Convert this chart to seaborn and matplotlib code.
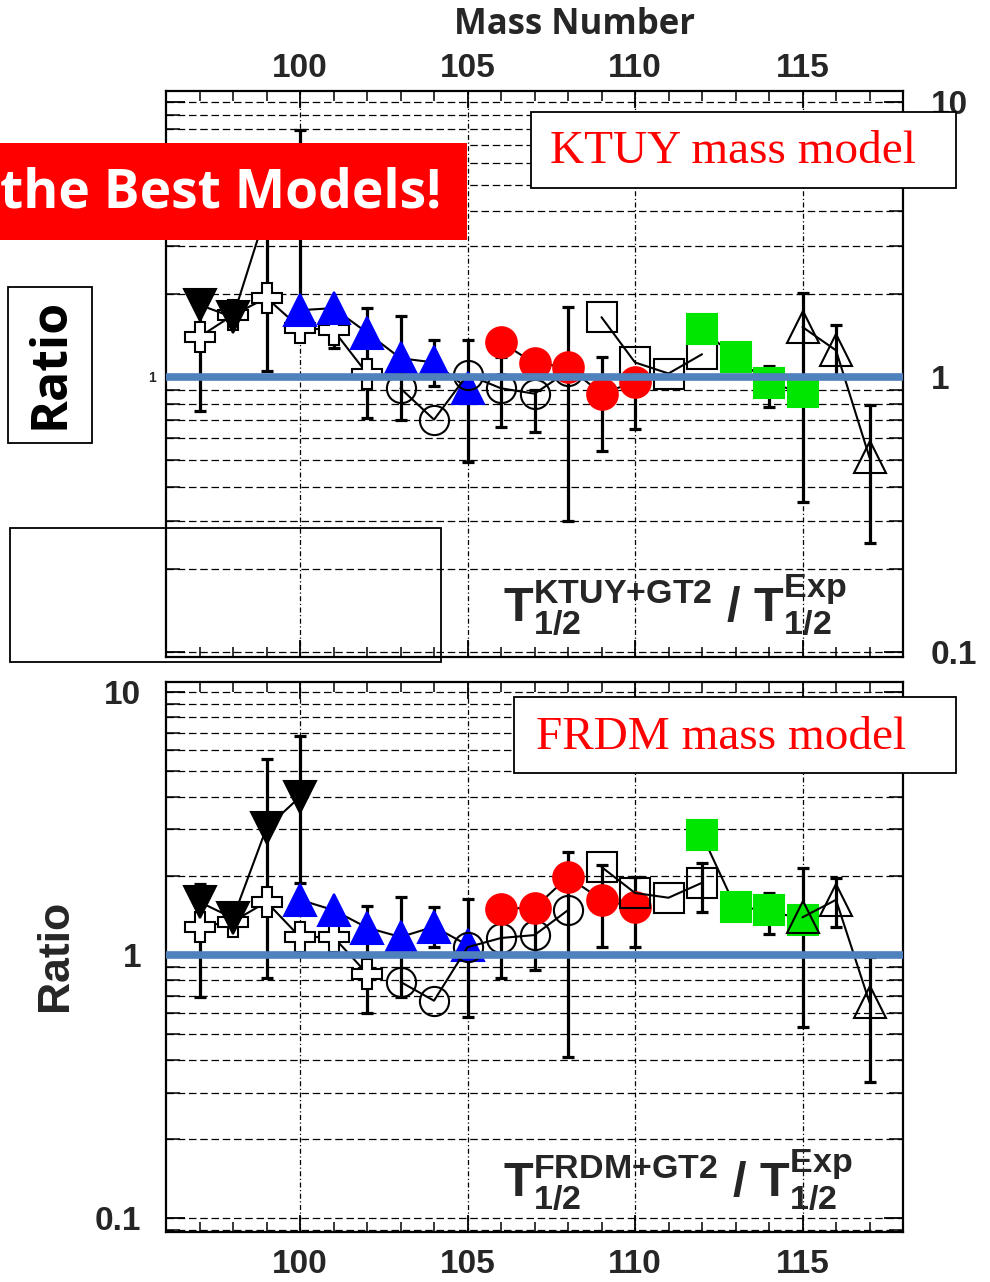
import matplotlib
matplotlib.use('Agg')
import matplotlib.pyplot as plt
import seaborn as sns
import numpy as np
import pandas as pd
from matplotlib.patches import Rectangle
from matplotlib.ticker import FixedLocator, LogLocator, NullFormatter

sns.set_theme(style='white')
plt.rcParams['font.family'] = ['Liberation Sans', 'DejaVu Sans']
plt.rcParams['mathtext.fontset'] = 'custom'
plt.rcParams['mathtext.rm'] = 'Liberation Sans'
plt.rcParams['mathtext.bf'] = 'Liberation Sans:bold'
plt.rcParams['mathtext.it'] = 'Liberation Sans:italic'

# ---------------- data (ratio T1/2 model / T1/2 exp) ----------------
A_down = [97, 98, 99, 100]
ktuy_down = [1.83, 1.65, 4.0, 4.5]
frdm_down = [1.59, 1.38, 3.04, 3.99]

A_cross = [97, 98, 99, 100, 101, 102]
ktuy_cross = [1.40, 1.68, 1.94, 1.51, 1.48, 1.03]
frdm_cross = [1.28, 1.34, 1.59, 1.17, 1.17, 0.85]

A_blue = [100, 101, 102, 103, 104, 105]
ktuy_blue = [1.75, 1.78, 1.45, 1.17, 1.13, 0.91]
frdm_blue = [1.62, 1.48, 1.27, 1.17, 1.28, 1.09]

A_ocirc = [103, 104, 105, 106, 107, 108]
ktuy_ocirc = [0.91, 0.70, 1.02, 0.91, 0.87, 1.05]
frdm_ocirc = [0.79, 0.67, 1.07, 1.16, 1.19, 1.48]

A_red = [106, 107, 108, 109, 110]
ktuy_red = [1.34, 1.12, 1.09, 0.87, 0.96]
frdm_red = [1.50, 1.51, 1.98, 1.62, 1.52]

A_osq = [109, 110, 111, 112]
ktuy_osq = [1.65, 1.13, 1.03, 1.21]
frdm_osq = [2.16, 1.72, 1.65, 1.88]

A_green = [112, 113, 114, 115]
ktuy_green = [1.49, 1.18, 0.95, 0.88]
frdm_green = [2.86, 1.52, 1.48, 1.36]

A_otri = [115, 116, 117]
ktuy_otri = [1.52, 1.25, 0.51]
frdm_otri = [1.39, 1.62, 0.66]

ktuy_err_A = [97, 99, 100, 101, 102, 103, 104, 105, 106, 107, 108, 109, 110, 114, 115, 116, 117]
ktuy_err_lo = [0.75, 1.05, 1.80, 1.28, 0.71, 0.70, 0.93, 0.49, 0.66, 0.63, 0.30, 0.54, 0.65, 0.78, 0.35, 1.00, 0.25]
ktuy_err_hi = [2.04, 7.0, 7.9, 1.50, 1.78, 1.67, 1.36, 1.36, 1.18, 0.90, 1.80, 1.18, 1.00, 1.10, 2.02, 1.55, 0.79]

frdm_err_A = [97, 99, 100, 102, 103, 104, 105, 106, 107, 108, 109, 110, 112, 114, 115, 116, 117]
frdm_err_lo = [0.69, 0.82, 1.88, 0.60, 0.69, 1.07, 0.58, 0.82, 0.88, 0.41, 1.07, 1.07, 1.46, 1.20, 0.53, 1.28, 0.33]
frdm_err_hi = [1.86, 5.55, 6.8, 1.54, 1.66, 1.52, 1.63, 1.45, 1.40, 2.46, 2.20, 1.98, 2.24, 1.72, 2.14, 1.96, 0.98]

x_major = [100, 105, 110, 115]
x_labels = ['100', '105', '110', '115']
y_major = [0.1, 1, 10]
y_labels = ['0.1', '1', '10']

W, H = 990, 1282
fig = plt.figure(figsize=(W / 100, H / 100), dpi=100)


def fx(px):
    return px / W


def fy(py):
    return 1 - py / H


ax_top = fig.add_axes([fx(166), fy(657), fx(903) - fx(166), fy(91) - fy(657)])
ax_bot = fig.add_axes([fx(166), fy(1232), fx(903) - fx(166), fy(682) - fy(1232)])

styles = [
    # (name, A, top values, bottom values, marker, facecolor, edgecolor, size)
    ('cross', A_cross, ktuy_cross, frdm_cross, 'P', 'white', 'black', 22),
    ('down', A_down, ktuy_down, frdm_down, 'v', 'black', 'black', 23),
    ('blue', A_blue, ktuy_blue, frdm_blue, '^', '#0000ff', '#0000ff', 23),
    ('ocirc', A_ocirc, ktuy_ocirc, frdm_ocirc, 'o', 'none', 'black', 21),
    ('red', A_red, ktuy_red, frdm_red, 'o', '#ff0000', '#ff0000', 22),
    ('osq', A_osq, ktuy_osq, frdm_osq, 's', 'none', 'black', 22),
    ('green', A_green, ktuy_green, frdm_green, 's', '#00e600', '#00e600', 22),
    ('otri', A_otri, ktuy_otri, frdm_otri, '^', 'none', 'black', 23),
]


def draw_panel(ax, which, err_A, err_lo, err_hi, ylim):
    ax.set_yscale('log')
    ax.set_xlim(96, 118)
    ax.set_ylim(*ylim)
    ax.yaxis.set_major_locator(FixedLocator(y_major))
    ax.yaxis.set_minor_locator(LogLocator(base=10, subs=np.arange(2, 10)))
    ax.yaxis.set_minor_formatter(NullFormatter())
    ax.xaxis.set_major_locator(FixedLocator(x_major))
    ax.xaxis.set_minor_locator(FixedLocator(list(range(97, 118))))
    ax.grid(axis='y', which='both', color='black', lw=0.9, linestyle=(0, (6, 3)))
    ax.grid(axis='x', which='major', color='black', lw=0.9, linestyle=(0, (4, 2, 1, 2)))
    ax.set_axisbelow(True)
    for s in ax.spines.values():
        s.set_color('black')
        s.set_linewidth(1.6)
    ax.tick_params(axis='y', which='major', direction='in', length=14, width=1.3,
                   left=True, right=True, color='black')
    ax.tick_params(axis='y', which='minor', direction='in', length=10, width=1.1,
                   left=True, right=True, color='black')
    ax.tick_params(axis='x', which='major', direction='in', length=12, width=1.3,
                   top=True, bottom=True, color='black')
    ax.tick_params(axis='x', which='minor', direction='in', length=7, width=1.1,
                   top=True, bottom=True, color='black')

    err_A = np.array(err_A, dtype=float)
    lo = np.array(err_lo)
    hi = np.array(err_hi)
    mid = np.sqrt(lo * hi)
    ax.errorbar(err_A, mid, yerr=[mid - lo, hi - mid], fmt='none', ecolor='black',
                elinewidth=2.3, capsize=4.5, capthick=2.3, zorder=3)

    for name, A, vt, vb, m, fc, ec, ms in styles:
        vals = vt if which == 'top' else vb
        df = pd.DataFrame({'A': A, 'ratio': vals})
        sns.lineplot(data=df, x='A', y='ratio', ax=ax, color='black', lw=1.5,
                     marker=m, markersize=ms, markerfacecolor=fc, markeredgecolor=ec,
                     markeredgewidth=1.5, errorbar=None, zorder=5)

    ax.axhline(1, color='#4f81bd', lw=5.5, zorder=10)
    ax.set_xlabel('')
    ax.set_ylabel('')


draw_panel(ax_top, 'top', ktuy_err_A, ktuy_err_lo, ktuy_err_hi, (0.096, 10.96))
draw_panel(ax_bot, 'bot', frdm_err_A, frdm_err_lo, frdm_err_hi, (0.0885, 10.9))

tick_font = dict(fontsize=24, fontweight='bold')

ax_top.tick_params(axis='x', labeltop=True, labelbottom=False, pad=5)
ax_top.set_xticklabels(x_labels, **tick_font)
ax_top.tick_params(axis='y', labelright=True, labelleft=False, pad=20)
ax_top.set_yticklabels(y_labels, **tick_font)

ax_bot.tick_params(axis='x', labeltop=False, labelbottom=True, pad=12)
ax_bot.set_xticklabels(x_labels, **tick_font)
ax_bot.tick_params(axis='y', labelright=False, labelleft=True, pad=18)
ax_bot.set_yticklabels(y_labels, **tick_font)

fig.text(fx(575), fy(25), 'Mass Number', ha='center', va='center', fontsize=25,
         fontweight='bold', family=['Open Sans', 'DejaVu Sans'])
fig.text(fx(152), fy(378), '1', ha='center', va='center', fontsize=10, fontweight='bold')
fig.text(fx(55), fy(955), 'Ratio', ha='center', va='center', fontsize=32,
         rotation=90, fontweight='bold')

formula_top = r'$\mathbf{T}_{\mathbf{1/2}}^{\mathbf{KTUY{+}GT2}}\ \mathbf{/}\ \mathbf{T}_{\mathbf{1/2}}^{\mathbf{Exp}}$'
formula_bot = r'$\mathbf{T}_{\mathbf{1/2}}^{\mathbf{FRDM{+}GT2}}\ \mathbf{/}\ \mathbf{T}_{\mathbf{1/2}}^{\mathbf{Exp}}$'
fig.text(fx(675), fy(605), formula_top, ha='center', va='center', fontsize=35, zorder=20)
fig.text(fx(678), fy(1180), formula_bot, ha='center', va='center', fontsize=35, zorder=20)


def box(x0, y0, x1, y1, fill=True, fc='white', ec='black', lw=1.3, z=30):
    r = Rectangle((fx(x0), fy(y1)), fx(x1) - fx(x0), fy(y0) - fy(y1),
                  transform=fig.transFigure, facecolor=fc if fill else 'none',
                  edgecolor=ec, lw=lw, zorder=z)
    fig.add_artist(r)


box(0, 143, 467, 240, fc='#ff0000', ec='#ff0000', lw=0)
fig.text(fx(0), fy(193), 'the Best Models!', ha='left', va='center', color='white',
         fontsize=38.5, fontweight='bold', family=['Open Sans', 'DejaVu Sans'], zorder=31)
box(8, 287, 92, 443)
fig.text(fx(50), fy(363), 'Ratio', ha='center', va='center', rotation=90, color='black',
         fontsize=36, fontweight='bold', family=['Open Sans', 'DejaVu Sans'], zorder=31)
box(10, 528, 441, 662, fill=False)
box(531, 112, 956, 188)
fig.text(fx(733), fy(152), 'KTUY mass model', ha='center', va='center', color='#ff0000',
         fontsize=34, family=['Liberation Serif', 'DejaVu Serif'], zorder=31)
box(514, 697, 956, 773)
fig.text(fx(721), fy(738), 'FRDM mass model', ha='center', va='center', color='#ff0000',
         fontsize=34, family=['Liberation Serif', 'DejaVu Serif'], zorder=31)

fig.savefig('out.png', dpi=100)
